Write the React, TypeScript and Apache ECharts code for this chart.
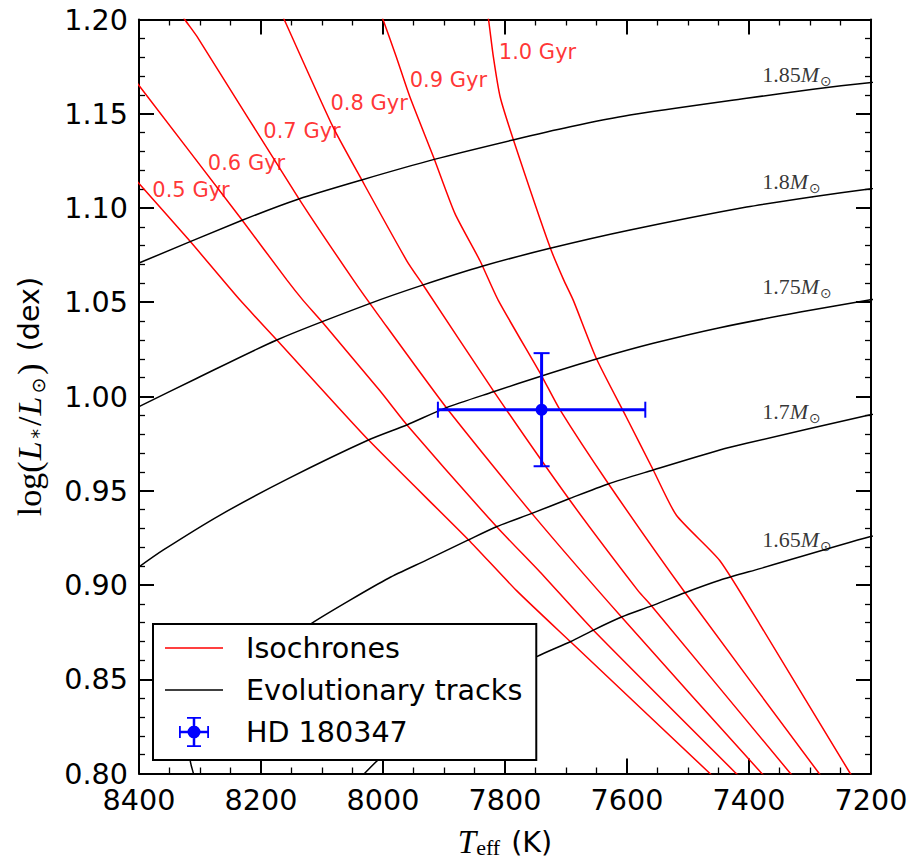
import React, { useEffect, useRef } from 'react';
import * as echarts from 'echarts';

// ---- axis ranges / ticks ----
const teffMin = 7200;
const teffMax = 8400;
const teffStep = 200;
const lumMin = 0.8;
const lumMax = 1.2;
const lumStep = 0.05;

// ---- isochrones [Teff (K), log L] ----
const isoAges = ['0.5 Gyr', '0.6 Gyr', '0.7 Gyr', '0.8 Gyr', '0.9 Gyr', '1.0 Gyr'];
const iso05 = [[8450, 1.131], [8400, 1.113], [8318, 1.083], [8234, 1.051], [8174, 1.030], [8024, 0.977], [7860, 0.924], [7781, 0.897], [7693, 0.870], [7464, 0.800], [7439, 0.793]];
const iso06 = [[8448, 1.185], [8400, 1.165], [8232, 1.094], [8158, 1.062], [8131, 1.051], [8101, 1.040], [8005, 1.003], [7961, 0.985], [7814, 0.931], [7743, 0.907], [7655, 0.876], [7421, 0.800], [7398, 0.793]];
const iso07 = [[8334, 1.205], [8325, 1.200], [8305, 1.191], [8138, 1.105], [8049, 1.062], [8005, 1.042], [7896, 0.994], [7756, 0.938], [7609, 0.883], [7379, 0.800], [7357, 0.793]];
const iso08 = [[8169, 1.205], [8162, 1.200], [8082, 1.143], [8035, 1.115], [7961, 1.072], [7934, 1.059], [7819, 1.003], [7696, 0.946], [7582, 0.897], [7560, 0.889], [7332, 0.800], [7313, 0.793]];
const iso09 = [[8005, 1.205], [8000, 1.200], [7978, 1.180], [7956, 1.159], [7916, 1.126], [7882, 1.097], [7841, 1.072], [7811, 1.051], [7740, 1.011], [7710, 0.993], [7631, 0.954], [7505, 0.896], [7285, 0.800], [7269, 0.793]];
const iso10 = [[7830, 1.205], [7827, 1.200], [7819, 1.180], [7808, 1.159], [7786, 1.136], [7726, 1.079], [7704, 1.062], [7688, 1.051], [7650, 1.020], [7601, 0.989], [7557, 0.961], [7519, 0.937], [7448, 0.913], [7382, 0.879], [7234, 0.800], [7220, 0.793]];
const isochrones = [iso05, iso06, iso07, iso08, iso09, iso10];
const isoLabelPos = [[8379, 1.1095], [8288, 1.1237], [8197, 1.141], [8087, 1.1559], [7957, 1.1679], [7811, 1.1829]];

// ---- evolutionary tracks [Teff (K), log L] ----
const massNames = ['1.85', '1.8', '1.75', '1.7', '1.65'];
const trk185 = [[8464, 1.0615], [8400, 1.0708], [8230, 1.0936], [8138, 1.1048], [8035, 1.1149], [7916, 1.1258], [7787, 1.1361], [7693, 1.1431], [7595, 1.1493], [7404, 1.1582], [7295, 1.163], [7203, 1.1665], [7169, 1.1676]];
const trk180 = [[8448, 0.9865], [8400, 0.9946], [8305, 1.0097], [8174, 1.03], [8021, 1.0494], [7934, 1.0592], [7836, 1.0692], [7726, 1.0786], [7595, 1.0883], [7404, 1.1005], [7295, 1.106], [7203, 1.1101], [7169, 1.1114]];
const trk175 = [[8431, 0.9021], [8400, 0.9096], [8360, 0.9186], [8267, 0.9371], [8153, 0.9568], [8024, 0.9769], [7961, 0.9849], [7896, 0.9941], [7819, 1.0025], [7740, 1.0109], [7650, 1.0199], [7557, 1.0282], [7448, 1.0365], [7316, 1.0448], [7203, 1.0512], [7169, 1.0528]];
const trk170 = [[8303, 0.7912], [8311, 0.8003], [8316, 0.8072], [8315, 0.8151], [8292, 0.8284], [8243, 0.8469], [8185, 0.8645], [8117, 0.8797], [8054, 0.892], [7991, 0.9036], [7928, 0.9133], [7860, 0.9239], [7814, 0.9309], [7756, 0.938], [7696, 0.9456], [7631, 0.9536], [7557, 0.961], [7448, 0.9716], [7404, 0.9752], [7203, 0.9902], [7169, 0.9923]];
const trk165 = [[8038, 0.7971], [8030, 0.8001], [8008, 0.8072], [7939, 0.8257], [7849, 0.8443], [7748, 0.862], [7693, 0.8699], [7655, 0.8761], [7609, 0.883], [7560, 0.8889], [7505, 0.8959], [7448, 0.9025], [7382, 0.9087], [7202, 0.9256], [7169, 0.9273]];
const tracks = [trk185, trk180, trk175, trk170, trk165];
const massLabelPos = [[7379, 1.1706], [7379, 1.114], [7379, 1.0581], [7379, 0.9919], [7379, 0.9239]];

// ---- star: [Teff, log L, Teff err, log L err] ----
const starName = 'HD 180347';
const starData = [[7740, 0.993, 170, 0.03]];

const RED = '#ff0000';
const BLUE = '#0000ff';
const BLACK = '#000000';
const SANS = 'DejaVu Sans';
const SERIF = 'Liberation Serif';
const TICK_FONT = 28.6;

const lineIcon = 'path://M0,0H58V1.6H0Z';
const errIcon =
  'path://M0,13.75H30V16.25H0Z M13.75,0H16.25V30H13.75Z M0,9H1.8V21H0Z M28.2,9H30V21H28.2Z M8,0H22V1.8H8Z M8,28.2H22V30H8Z M8.5,15A6.5,6.5 0 1 1 21.5,15A6.5,6.5 0 1 1 8.5,15Z';

function axisCommon(extra: any) {
  return {
    axisLine: { show: true, onZero: false, lineStyle: { color: BLACK, width: 2 } },
    axisTick: { show: true, inside: true, length: 15, lineStyle: { color: BLACK, width: 2 } },
    splitLine: { show: false },
    minorSplitLine: { show: false },
    nameMoveOverlap: false,
    ...extra,
  };
}

function buildOption() {
  const series: any[] = [];
  isochrones.forEach((d) => {
    series.push({
      type: 'line',
      name: 'Isochrones',
      data: d,
      symbol: 'none',
      showSymbol: false,
      smooth: 0.2,
      silent: true,
      z: 2,
      lineStyle: { color: RED, width: 1.5 },
      itemStyle: { color: RED },
    });
  });
  tracks.forEach((d) => {
    series.push({
      type: 'line',
      name: 'Evolutionary tracks',
      data: d,
      symbol: 'none',
      showSymbol: false,
      smooth: 0.25,
      silent: true,
      z: 2,
      lineStyle: { color: BLACK, width: 1.5 },
      itemStyle: { color: BLACK },
    });
  });
  series.push({
    type: 'custom',
    name: starName,
    data: starData,
    encode: { x: 0, y: 1 },
    z: 6,
    silent: true,
    itemStyle: { color: BLUE },
    renderItem: (params: any, api: any) => {
      const t = api.value(0);
      const l = api.value(1);
      const et = api.value(2);
      const el = api.value(3);
      const c = api.coord([t, l]);
      const xa = api.coord([t + et, l]);
      const xb = api.coord([t - et, l]);
      const ya = api.coord([t, l + el]);
      const yb = api.coord([t, l - el]);
      const bar = { stroke: BLUE, lineWidth: 3 };
      const cap = { stroke: BLUE, lineWidth: 2 };
      const ch = 8;
      return {
        type: 'group',
        children: [
          { type: 'line', shape: { x1: xa[0], y1: xa[1], x2: xb[0], y2: xb[1] }, style: bar },
          { type: 'line', shape: { x1: ya[0], y1: ya[1], x2: yb[0], y2: yb[1] }, style: bar },
          { type: 'line', shape: { x1: xa[0], y1: xa[1] - ch, x2: xa[0], y2: xa[1] + ch }, style: cap },
          { type: 'line', shape: { x1: xb[0], y1: xb[1] - ch, x2: xb[0], y2: xb[1] + ch }, style: cap },
          { type: 'line', shape: { x1: ya[0] - ch, y1: ya[1], x2: ya[0] + ch, y2: ya[1] }, style: cap },
          { type: 'line', shape: { x1: yb[0] - ch, y1: yb[1], x2: yb[0] + ch, y2: yb[1] }, style: cap },
          { type: 'circle', shape: { cx: c[0], cy: c[1], r: 6 }, style: { fill: BLUE } },
        ],
      };
    },
  });
  series.push({
    type: 'scatter',
    name: 'isoLabels',
    silent: true,
    symbolSize: 1,
    itemStyle: { color: 'rgba(0,0,0,0)' },
    z: 7,
    data: isoLabelPos.map((p, i) => ({ value: p, name: isoAges[i] })),
    label: {
      show: true,
      position: 'right',
      distance: 0,
      formatter: '{b}',
      color: RED,
      fontSize: 21,
      fontFamily: SANS,
    },
  });
  series.push({
    type: 'scatter',
    name: 'massLabels',
    silent: true,
    symbolSize: 1,
    itemStyle: { color: 'rgba(0,0,0,0)' },
    z: 7,
    data: massLabelPos.map((p, i) => ({ value: p, name: massNames[i] })),
    label: {
      show: true,
      position: 'right',
      distance: 0,
      formatter: (p: any) => `{n|${p.name}}{m|M}{s|\u2299}`,
      color: BLACK,
      rich: {
        n: { fontFamily: SERIF, fontSize: 22, lineHeight: 26, color: BLACK },
        m: { fontFamily: SERIF, fontStyle: 'italic', fontSize: 22, lineHeight: 26, color: BLACK, padding: [0, 1, 0, 0] },
        s: { fontFamily: SANS, fontSize: 14, lineHeight: 13, verticalAlign: 'bottom', color: BLACK },
      },
    },
  });

  return {
    animation: false,
    backgroundColor: '#ffffff',
    textStyle: { fontFamily: SANS },
    grid: { left: 139, top: 19.5, width: 732, height: 754, containLabel: false, outerBoundsMode: 'none' },
    legend: {
      orient: 'vertical',
      left: 153,
      top: 624,
      padding: [3, 14, 7, 12],
      itemWidth: 58,
      itemHeight: 30,
      itemGap: 0,
      selectedMode: false,
      backgroundColor: '#ffffff',
      borderColor: BLACK,
      borderWidth: 2,
      borderRadius: 0,
      z: 10,
      textStyle: { fontSize: 28.6, lineHeight: 42, color: BLACK, fontFamily: SANS, padding: [0, 0, 0, 18] },
      data: [
        { name: 'Isochrones', icon: lineIcon },
        { name: 'Evolutionary tracks', icon: lineIcon },
        { name: starName, icon: errIcon },
      ],
    },
    xAxis: [
      axisCommon({
        type: 'value',
        position: 'bottom',
        min: teffMin,
        max: teffMax,
        interval: teffStep,
        inverse: true,
        minorTick: { show: true, splitNumber: 4, length: 6, lineStyle: { color: BLACK, width: 1.3 } },
        axisLabel: { show: true, color: BLACK, fontSize: TICK_FONT, lineHeight: 26, fontFamily: SANS, margin: 13, formatter: (v: number) => String(v) },
        name: '{i|T}{e|eff}{s|(K)}',
        nameLocation: 'middle',
        nameGap: 51,
        nameTextStyle: {
          color: BLACK,
          rich: {
            i: { fontFamily: SERIF, fontStyle: 'italic', fontSize: 33, lineHeight: 34, color: BLACK },
            e: { fontFamily: SERIF, fontSize: 22, lineHeight: 22, verticalAlign: 'bottom', color: BLACK },
            s: { fontFamily: SANS, fontSize: 28.6, lineHeight: 34, padding: [0, 0, 0, 11], color: BLACK },
          },
        },
      }),
      axisCommon({
        type: 'value',
        position: 'top',
        min: teffMin,
        max: teffMax,
        interval: teffStep,
        inverse: true,
        minorTick: { show: true, splitNumber: 4, length: 6, lineStyle: { color: BLACK, width: 1.3 } },
        axisLabel: { show: false },
      }),
    ],
    yAxis: [
      axisCommon({
        type: 'value',
        position: 'left',
        min: lumMin,
        max: lumMax,
        interval: lumStep,
        minorTick: { show: true, splitNumber: 5, length: 6, lineStyle: { color: BLACK, width: 1.3 } },
        axisLabel: { show: true, color: BLACK, fontSize: TICK_FONT, lineHeight: 26, fontFamily: SANS, margin: 11, formatter: (v: number) => v.toFixed(2) },
        name: '{s|log(}{i|L}{b|*}{s|/}{i|L}{b|\u2299}{s|)}{t|(dex)}',
        nameLocation: 'middle',
        nameRotate: 90,
        nameGap: 92,
        nameTextStyle: {
          color: BLACK,
          rich: {
            s: { fontFamily: SERIF, fontSize: 34, lineHeight: 36, color: BLACK },
            i: { fontFamily: SERIF, fontStyle: 'italic', fontSize: 34, lineHeight: 36, color: BLACK, padding: [0, 1, 0, 1] },
            b: { fontFamily: SANS, fontSize: 19, lineHeight: 18, verticalAlign: 'bottom', color: BLACK, padding: [0, 3, 0, 2] },
            t: { fontFamily: SANS, fontSize: 28.6, lineHeight: 36, padding: [0, 0, 0, 12], color: BLACK },
          },
        },
      }),
      axisCommon({
        type: 'value',
        position: 'right',
        min: lumMin,
        max: lumMax,
        interval: lumStep,
        minorTick: { show: true, splitNumber: 5, length: 6, lineStyle: { color: BLACK, width: 1.3 } },
        axisLabel: { show: false },
      }),
    ],
    series,
  };
}

export default function App() {
  const ref = useRef<HTMLDivElement>(null);
  useEffect(() => {
    if (!ref.current) return;
    const chart = echarts.init(ref.current, null, { renderer: 'svg' });
    chart.setOption(buildOption() as any);
    return () => chart.dispose();
  }, []);
  return (
    <div
      ref={ref}
      style={{ position: 'absolute', left: 0, top: 0, width: 914, height: 866, background: '#fff' }}
    />
  );
}
